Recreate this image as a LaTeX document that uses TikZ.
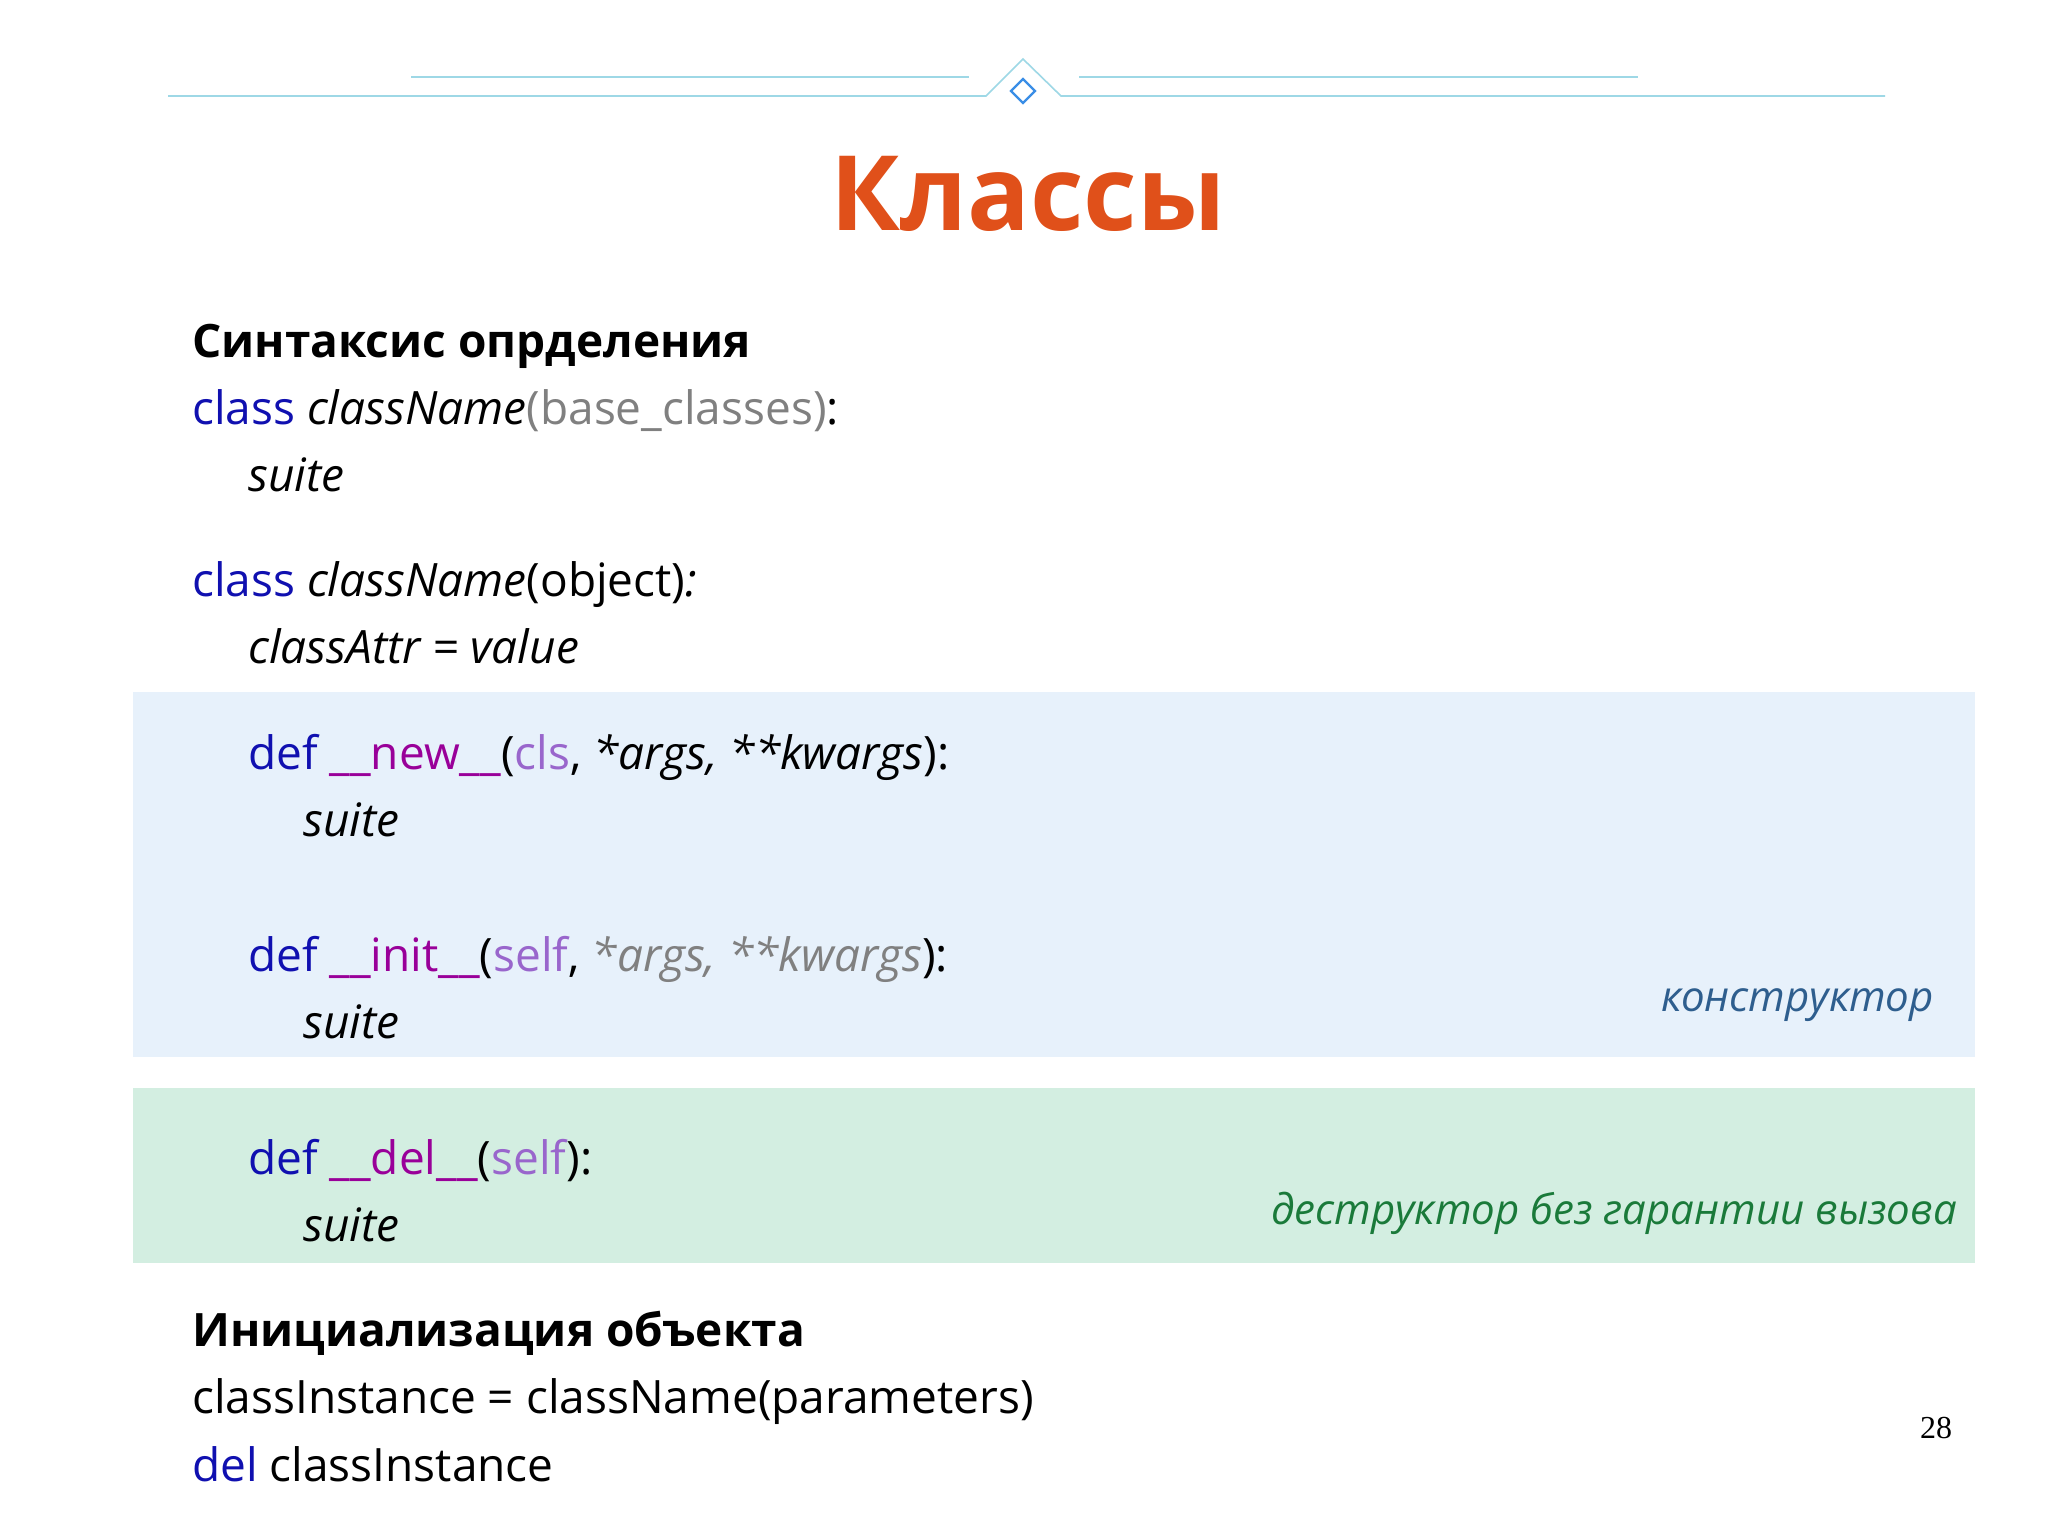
\documentclass[tikz,border=0pt]{standalone}
\usepackage{fontspec}
\setmainfont{Open Sans}
\newfontfamily\serifnum{Liberation Serif}
\definecolor{kw}{HTML}{1010B0}
\definecolor{dunder}{HTML}{990099}
\definecolor{slf}{HTML}{9966CC}
\definecolor{gr}{HTML}{808080}
\definecolor{ttl}{HTML}{E0501A}
\definecolor{lineblue}{HTML}{9ED8E6}
\definecolor{dia}{HTML}{3A8EE6}
\definecolor{bluebg}{HTML}{E7F1FB}
\definecolor{greenbg}{HTML}{D3EEE1}
\definecolor{ctor}{HTML}{2E5E8E}
\definecolor{dtor}{HTML}{1A7A3A}
\tikzset{
  code/.style={anchor=base west,inner sep=0pt,font=\fontsize{46}{50}\selectfont},
  note/.style={anchor=base east,inner sep=0pt,font=\fontsize{42}{46}\selectfont\itshape},
}
\begin{document}
\begin{tikzpicture}[x=1pt,y=-1pt]
\useasboundingbox (0,0) rectangle (2048,1535);
\fill[white] (0,0) rectangle (2048,1535);
% decoration
\draw[lineblue,line width=1.6] (168,96) -- (986,96) -- (1023,59) -- (1061,96) -- (1885,96);
\draw[lineblue,line width=1.6] (411,77) -- (969,77);
\draw[lineblue,line width=1.6] (1079,77) -- (1638,77);
\draw[dia,line width=2.2] (1023,79) -- (1035,91) -- (1023,103) -- (1011,91) -- cycle;
% title
\node[inner sep=0pt,text=ttl,font=\fontsize{104}{110}\selectfont\bfseries] (title) at (1028,194) {Классы};
% boxes
\fill[bluebg] (133,692) rectangle (1975,1057);
\fill[greenbg] (133,1088) rectangle (1975,1263);
% text
\node[code,font=\fontsize{46}{50}\selectfont\bfseries] (h1) at (192,357) {Синтаксис опрделения};
\node[code] (l1) at (192,424) {\textcolor{kw}{class} \textit{className}\textcolor{gr}{(base\_classes)}:};
\node[code] (l2) at (248,491) {\textit{suite}};
\node[code] (l3) at (192,596) {\textcolor{kw}{class} \textit{className}(object)\textit{:}};
\node[code] (l4) at (248,663) {\textit{classAttr = value}};
\node[code] (l5) at (248,769) {\textcolor{kw}{def} \textcolor{dunder}{\_\_new\_\_}(\textcolor{slf}{cls}, \textit{*args, **kwargs}):};
\node[code] (l6) at (303,836) {\textit{suite}};
\node[code] (l7) at (248,971) {\textcolor{kw}{def} \textcolor{dunder}{\_\_init\_\_}(\textcolor{slf}{self}, \textcolor{gr}{\textit{*args, **kwargs}}):};
\node[code] (l8) at (303,1038) {\textit{suite}};
\node[note,text=ctor] (n1) at (1934,1011) {конструктор};
\node[code] (l9) at (248,1174) {\textcolor{kw}{def} \textcolor{dunder}{\_\_del\_\_}(\textcolor{slf}{self}):};
\node[code] (l10) at (303,1241) {\textit{suite}};
\node[note,text=dtor] (n2) at (1957,1224) {деструктор без гарантии вызова};
\node[code,font=\fontsize{46}{50}\selectfont\bfseries] (h2) at (192,1346) {Инициализация объекта};
\node[code] (l11) at (192,1413) {classInstance = className(parameters)};
\node[code] (l12) at (192,1481) {\textcolor{kw}{del} classInstance};
\node[anchor=base,inner sep=0pt,font=\serifnum\fontsize{32}{36}\selectfont] (pg) at (1936,1438) {28};
\end{tikzpicture}
\end{document}
